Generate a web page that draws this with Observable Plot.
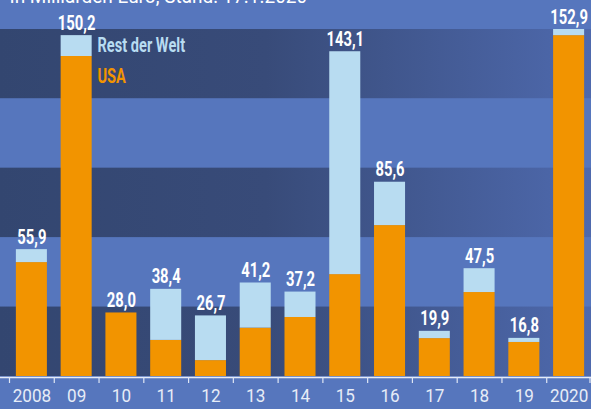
<!DOCTYPE html>
<html>
<head>
<meta charset="utf-8">
<script src="https://cdn.jsdelivr.net/npm/d3@7"></script>
<script src="https://cdn.jsdelivr.net/npm/@observablehq/plot@0.6"></script>
<style>
  html, body { margin: 0; padding: 0; background: #5676bd; }
  svg { display: block; }
</style>
</head>
<body>
<div id="chart"></div>
<script>
const years  = ["2008","09","10","11","12","13","14","15","16","17","18","19","2020"];
const totals = [55.9,150.2,28.0,38.4,26.7,41.2,37.2,143.1,85.6,19.9,47.5,16.8,152.9];
const usa    = [50.2,141.0,28.0,15.9,7.0,21.3,26.0,44.9,66.5,16.7,37.0,15.0,150.2];
const rest   = [5.7,9.2,0.0,22.5,19.7,19.9,11.2,98.2,19.1,3.2,10.5,1.8,2.7];
const seriesNames = ["USA", "Rest der Welt"];
const seriesColors = ["#f29400", "#b8dcf1"];
const subtitle = "In Milliarden Euro, Stand: 17.1.2020";
const darkBands = [[0, 30.6], [61.2, 91.8], [122.4, 152.9]];

const rows = [];
years.forEach((y, i) => {
  rows.push({year: y, series: seriesNames[0], value: usa[i]});
  rows.push({year: y, series: seriesNames[1], value: rest[i]});
});
const labels = years.map((y, i) => ({year: y, total: totals[i], text: totals[i].toFixed(1).replace(".", ",")}));
const bands = darkBands.map(([lo, hi]) => ({lo, hi}));

const FONT = "Roboto, 'DejaVu Sans', sans-serif";
const X0 = 9, X1 = 591;
const step = (X1 - X0) / years.length;

const plot = Plot.plot({
  width: 591,
  height: 409,
  marginTop: 0,
  marginBottom: 33,
  marginLeft: 0,
  marginRight: 0,
  style: {background: "#5676bd", fontFamily: FONT, overflow: "visible"},
  x: {domain: years, range: [X0, X1], paddingInner: 0.307, paddingOuter: 0.1535, round: false, axis: null, label: null},
  y: {domain: [0, 152.9], range: [376, 29], axis: null},
  color: {domain: seriesNames, range: seriesColors},
  marks: [
    Plot.rect(bands, {y1: "lo", y2: "hi", fill: "url(#bandGrad)"}),
    Plot.barY(rows, {x: "year", y: "value", fill: "series", order: seriesNames}),
    Plot.ruleY([0], {stroke: "#e6ecf7", strokeWidth: 1.6, dy: 1}),
    Plot.axisX({tickSize: 6, dx: -step / 2, dy: 1, text: null, label: null, stroke: "#dfe6f4", strokeWidth: 1.2}),
    Plot.axisX({ticks: [years[years.length - 1]], tickSize: 6, dx: step / 2 - 1.5, dy: 1, text: null, label: null, stroke: "#dfe6f4", strokeWidth: 1.2}),
    Plot.axisX({tickSize: 0, tickPadding: 12, fontSize: 19, fill: "#e6ecf7", label: null}),
    Plot.text(labels, {x: "year", y: "total", text: "text", lineAnchor: "bottom", dy: -6, fill: "white", fontSize: 19.5, fontWeight: "bold"}),
    Plot.text([seriesNames[1]], {frameAnchor: "top-left", dx: 97, dy: 45, lineAnchor: "middle", textAnchor: "start", fill: seriesColors[1], fontSize: 20, fontWeight: "bold"}),
    Plot.text([seriesNames[0]], {frameAnchor: "top-left", dx: 97, dy: 76, lineAnchor: "middle", textAnchor: "start", fill: seriesColors[0], fontSize: 20, fontWeight: "bold"}),
    Plot.text([subtitle], {frameAnchor: "top-left", dx: 9, dy: 2, lineAnchor: "bottom", textAnchor: "start", fill: "white", fontSize: 20})
  ]
});

const ns = "http://www.w3.org/2000/svg";
const defs = document.createElementNS(ns, "defs");
const grad = document.createElementNS(ns, "linearGradient");
grad.setAttribute("id", "bandGrad");
grad.setAttribute("x1", "0"); grad.setAttribute("x2", "1");
grad.setAttribute("y1", "0"); grad.setAttribute("y2", "0");
[["0", "#334670"], ["0.45", "#384b79"], ["1", "#4e69ad"]].forEach(([o, c]) => {
  const s = document.createElementNS(ns, "stop");
  s.setAttribute("offset", o); s.setAttribute("stop-color", c);
  grad.appendChild(s);
});
defs.appendChild(grad);
plot.insertBefore(defs, plot.firstChild);
document.getElementById("chart").appendChild(plot);

// condense text horizontally (the reference uses a condensed typeface)
const valueTexts = new Set(labels.map(d => d.text));
plot.querySelectorAll("text").forEach(t => {
  const s = t.textContent;
  let k = null;
  if (years.includes(s)) k = 0.9;
  else if (valueTexts.has(s)) k = 0.76;
  else if (seriesNames.includes(s)) k = 0.73;
  else if (s === subtitle) k = 0.95;
  if (k == null) return;
  const tr = t.getAttribute("transform") || "";
  t.setAttribute("transform", `${tr} scale(${k},1)`.trim());
});
</script>
</body>
</html>
